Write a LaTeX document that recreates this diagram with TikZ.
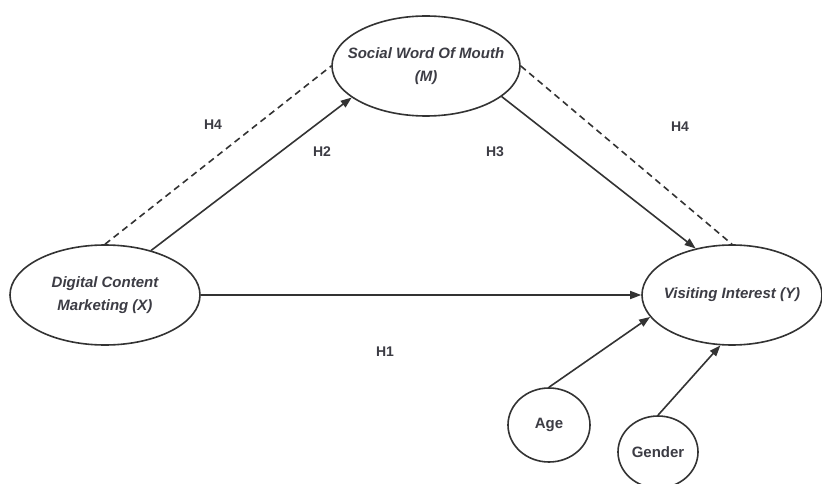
\documentclass[tikz,border=0pt]{standalone}
\usepackage{fontspec}
\setmainfont{Liberation Sans}
\usetikzlibrary{shapes.geometric,arrows.meta}
\definecolor{ink}{HTML}{333333}
\definecolor{txt}{HTML}{3C3C44}
\tikzset{
    var/.style={ellipse, draw=ink, line width=1.6pt, inner xsep=-16pt, inner ysep=0pt, align=center, text=txt,
        font=\fontsize{15}{23}\selectfont\bfseries\itshape},
    ctrl/.style={ellipse, draw=ink, line width=1.6pt, inner sep=0pt, text=txt,
        font=\fontsize{15}{18}\selectfont\bfseries},
    path/.style={draw=ink, line width=1.6pt, -{Triangle[length=11pt,width=8pt]}},
    indirect/.style={draw=ink, line width=1.6pt, dash pattern=on 6.5pt off 4.5pt},
    hyp/.style={text=txt, font=\fontsize{14}{16}\selectfont\bfseries}
}
\begin{document}
\begin{tikzpicture}[x=1pt, y=-1pt]
        \useasboundingbox[fill=white] (0, 0) rectangle (822, 484);

        \draw (105, 295) node[var, minimum width=190pt, minimum height=100pt] (X) {Digital Content\\Marketing (X)};
        \draw (426, 66) node[var, minimum width=188pt, minimum height=100pt] (M) {Social Word Of Mouth\\(M)};
        \draw (732, 295) node[var, minimum width=180pt, minimum height=100pt] (Y) {Visiting Interest (Y)};
        \draw (549, 425) node[ctrl, minimum width=82pt, minimum height=74pt] (age) {Age};
        \draw (658, 452) node[ctrl, minimum width=80pt, minimum height=72pt] (gender) {Gender};

        \draw [path] (X.east) to (Y.west);
        \draw [path] (X.44) to (M.203);
        \draw [path] (M.338) to (Y.128);
        \draw [path] (age.north) to (Y.195);
        \draw [path] (gender.north) to (Y.257);

        \draw [indirect] (X.north) to (M.west);
        \draw [indirect] (M.east) to (Y.north);

        \node[hyp] at (213, 125) (h4a) {H4};
        \node[hyp] at (322, 152) (h2) {H2};
        \node[hyp] at (495, 152) (h3) {H3};
        \node[hyp] at (680, 127) (h4b) {H4};
        \node[hyp] at (385, 352) (h1) {H1};
\end{tikzpicture}
\end{document}
